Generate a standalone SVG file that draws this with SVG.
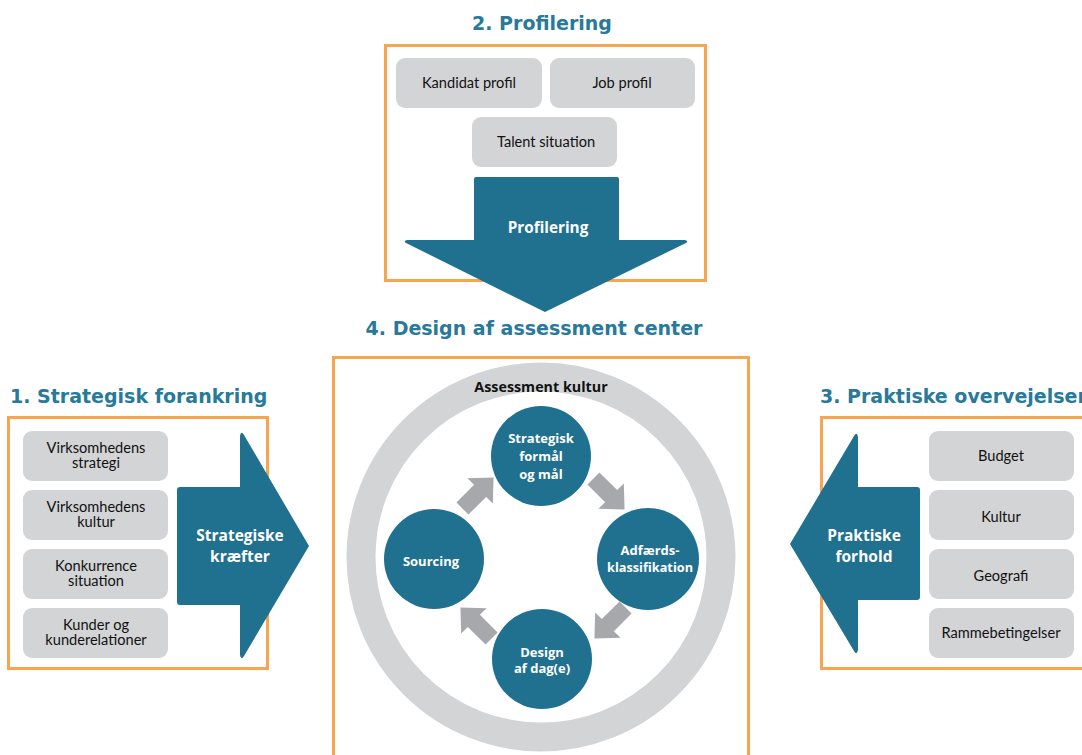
<svg xmlns="http://www.w3.org/2000/svg" width="1082" height="755" viewBox="0 0 1082 755">
<defs>
<style>
.title{font-family:"DejaVu Sans","Liberation Sans",sans-serif;font-weight:bold;font-size:19px;fill:#28799A}
.frame{fill:#fff;stroke:#F8A552;stroke-width:3}
.box{fill:#D3D4D6}
.bt{font-family:Lato,"Open Sans",sans-serif;font-size:14.6px;fill:#111;text-anchor:middle}
.big{fill:#20718F}
.wt{font-family:"Open Sans","Liberation Sans",sans-serif;font-weight:bold;fill:#fff;text-anchor:middle}
.garrow{fill:#A7A8AB}
</style>
<path id="ga" d="M-22,-8.5 L3,-8.5 L3,-18 L22,0 L3,18 L3,8.5 L-22,8.5 Z"/>
</defs>
<rect width="1082" height="755" fill="#fff"/>

<g id="profilering">
<text class="title" x="542" y="30" text-anchor="middle">2. Profilering</text>
<rect class="frame" x="385.5" y="45.5" width="320" height="235"/>
<g id="kandidat-profil"><rect class="box" x="396" y="58" width="146" height="50" rx="9"/><text class="bt" x="469" y="88">Kandidat profil</text></g>
<g id="job-profil"><rect class="box" x="550" y="58" width="145" height="50" rx="9"/><text class="bt" x="622" y="88">Job profil</text></g>
<g id="talent-situation"><rect class="box" x="472" y="117" width="145" height="50" rx="9"/><text class="bt" x="546" y="147">Talent situation</text></g>
<g id="profilering-arrow"><path class="big" d="M476,177 L617,177 Q619,177 619,179 L619,240 L685,240 Q689,241 686,243 L545,312 L406,243 Q403,241 407,240 L474,240 L474,179 Q474,177 476,177 Z"/><text class="wt" x="548" y="233" font-size="15.3">Profilering</text></g>
</g>

<g id="strategisk-forankring">
<text class="title" x="10" y="403">1. Strategisk forankring</text>
<rect class="frame" x="8.5" y="417.5" width="259" height="251"/>
<g id="virk-strategi"><rect class="box" x="23" y="431" width="145" height="50" rx="9"/><text class="bt" x="96" y="453">Virksomhedens<tspan x="96" dy="15">strategi</tspan></text></g>
<g id="virk-kultur"><rect class="box" x="23" y="490" width="145" height="50" rx="9"/><text class="bt" x="96" y="512">Virksomhedens<tspan x="96" dy="15">kultur</tspan></text></g>
<g id="konkurrence"><rect class="box" x="23" y="549" width="145" height="50" rx="9"/><text class="bt" x="96" y="571">Konkurrence<tspan x="96" dy="15">situation</tspan></text></g>
<g id="kunder"><rect class="box" x="23" y="608" width="145" height="50" rx="9"/><text class="bt" x="96" y="630">Kunder og<tspan x="96" dy="15">kunderelationer</tspan></text></g>
<g id="strategiske-kraefter"><path class="big" d="M180,487 L240,487 L240,436 Q241,430 244,435 L309,546 L244,656 Q241,661 240,655 L240,605 L180,605 Q177,605 177,602 L177,490 Q177,487 180,487 Z"/><text class="wt" x="240" y="541" font-size="15.5">Strategiske<tspan x="240" dy="21">kræfter</tspan></text></g>
</g>

<g id="praktiske-overvejelser">
<text class="title" x="820" y="403">3. Praktiske overvejelser</text>
<rect class="frame" x="821.5" y="417.5" width="270" height="251"/>
<g id="budget"><rect class="box" x="929" y="431" width="145" height="50" rx="9"/><text class="bt" x="1001" y="461">Budget</text></g>
<g id="kultur"><rect class="box" x="929" y="490" width="145" height="50" rx="9"/><text class="bt" x="1001" y="522">Kultur</text></g>
<g id="geografi"><rect class="box" x="929" y="549" width="145" height="50" rx="9"/><text class="bt" x="1001" y="581">Geografi</text></g>
<g id="rammebetingelser"><rect class="box" x="929" y="608" width="145" height="50" rx="9"/><text class="bt" x="1001" y="638">Rammebetingelser</text></g>
<g id="praktiske-forhold"><path class="big" d="M917,487 L858,487 L858,437 Q857,431 854,436 L790,544 L854,651 Q857,656 858,650 L858,600 L917,600 Q920,600 920,597 L920,490 Q920,487 917,487 Z"/><text class="wt" x="864" y="541" font-size="15.5">Praktiske<tspan x="864" dy="21">forhold</tspan></text></g>
</g>

<g id="design-assessment-center">
<text class="title" x="534" y="335" text-anchor="middle">4. Design af assessment center</text>
<rect class="frame" x="333.5" y="357.5" width="415" height="410"/>
<g id="assessment-kultur"><circle cx="541" cy="557" r="180" fill="none" stroke="#D3D4D6" stroke-width="29"/><text x="541" y="392" text-anchor="middle" font-family="'Open Sans','Liberation Sans',sans-serif" font-weight="bold" font-size="14.3" fill="#111">Assessment kultur</text></g>
<g id="strategisk-formaal"><circle class="big" cx="541" cy="456" r="50"/><text class="wt" x="541" y="443" font-size="13">Strategisk<tspan x="541" dy="18">formål</tspan><tspan x="541" dy="18">og mål</tspan></text></g>
<g id="adfaerds"><circle class="big" cx="648" cy="559" r="51"/><text class="wt" x="650" y="555" font-size="13">Adfærds-<tspan x="650" dy="17" textLength="86" lengthAdjust="spacingAndGlyphs">klassifikation</tspan></text></g>
<g id="design-dag"><circle class="big" cx="542" cy="659" r="50"/><text class="wt" x="542" y="657" font-size="13">Design<tspan x="542" dy="16">af dag(e)</tspan></text></g>
<g id="sourcing"><circle class="big" cx="434" cy="559" r="50"/><text class="wt" x="431" y="566" font-size="13">Sourcing</text></g>
</g>

<g id="connectors">
<use href="#ga" class="garrow" transform="translate(478,493) rotate(-45)"/>
<use href="#ga" class="garrow" transform="translate(609,494) rotate(45)"/>
<use href="#ga" class="garrow" transform="translate(610,623) rotate(135)"/>
<use href="#ga" class="garrow" transform="translate(476,623) rotate(225)"/>
</g>
</svg>
